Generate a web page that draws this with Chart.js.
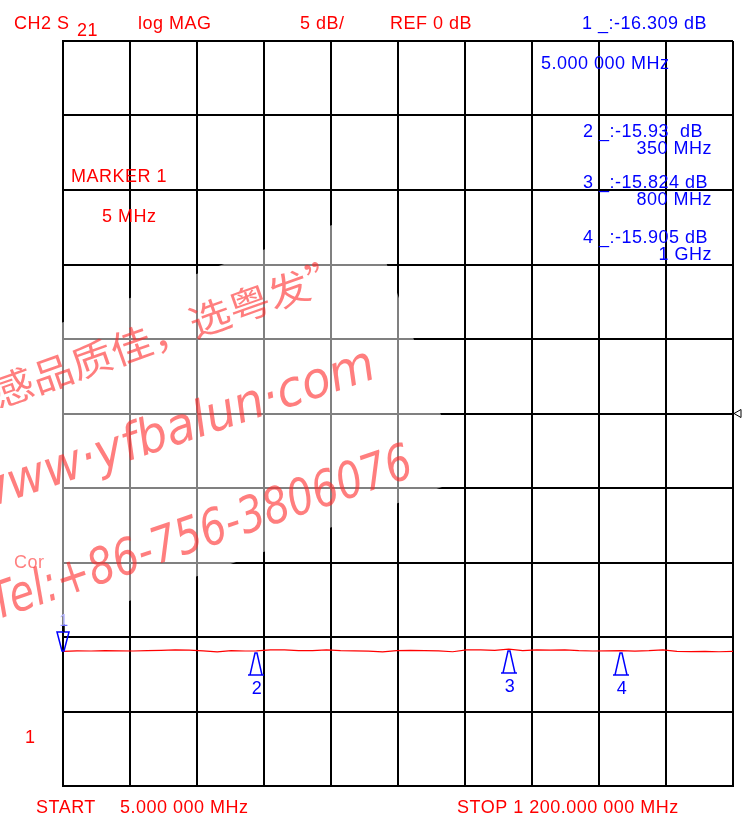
<!DOCTYPE html>
<html>
<head>
<meta charset="utf-8">
<script src="https://cdn.jsdelivr.net/npm/chart.js@4.4.1/dist/chart.umd.min.js"></script>
<style>
  html, body { margin: 0; padding: 0; background: #fff; }
</style>
</head>
<body>
<canvas id="s21Chart" width="750" height="817"></canvas>
<script>
// sweep points (MHz) and S21 trace (dB)
const freqMHz = [5, 30, 55, 80, 105, 130, 155, 180, 205, 230, 255, 280, 305, 330, 350,
  375, 400, 425, 450, 475, 500, 525, 550, 575, 600, 625, 650, 675, 700, 725, 750, 775,
  800, 825, 850, 875, 900, 925, 950, 975, 1000, 1025, 1050, 1075, 1100, 1125, 1150, 1175, 1200];
const s21dB = [-15.97, -15.93, -15.94, -15.92, -15.93, -15.94, -15.92, -15.90, -15.86, -15.88,
  -15.93, -16.00, -15.92, -15.94, -15.93, -15.87, -15.86, -15.92, -15.91, -15.87, -15.92,
  -15.93, -15.95, -16.00, -15.92, -15.90, -15.91, -15.93, -15.99, -15.87, -15.86, -15.90,
  -15.82, -15.91, -15.87, -15.88, -15.87, -15.92, -15.94, -15.93, -15.91, -15.95, -15.92,
  -15.86, -15.97, -15.98, -15.96, -15.99, -15.97];

// markers
const markerNames = ['1', '2', '3', '4'];
const markerFreq = [5, 350, 800, 1000];
const markerDb = ['-16.309', '-15.93 ', '-15.824', '-15.905'];
const markerFreqText = ['5.000 000 MHz', '350 MHz', '800 MHz', '1 GHz'];

// graticule: 10 x 10 divisions, 5 dB/div, REF 0 dB at centre
const xTicks = [5, 124.5, 244, 363.5, 483, 602.5, 722, 841.5, 961, 1080.5, 1200];
const yTicks = [-25, -20, -15, -10, -5, 0, 5, 10, 15, 20, 25];

const RED = '#ff0000';
const BLUE = '#0000ff';
const FONT = "18px 'Liberation Sans', Arial, sans-serif";

function txt(c, s, x, y, color, font, align) {
  c.font = font || FONT;
  c.letterSpacing = '0.5px';
  c.fillStyle = color;
  c.textAlign = align || 'left';
  c.textBaseline = 'alphabetic';
  c.fillText(s, x, y);
  c.letterSpacing = '0px';
}

// draw text along a slanted line, stretched to a given length
function slanted(c, s, x, y, angleDeg, len, font, color) {
  c.save();
  c.font = font;
  c.fillStyle = color;
  c.textAlign = 'left';
  c.textBaseline = 'alphabetic';
  c.translate(x, y);
  c.rotate(angleDeg * Math.PI / 180);
  const w = c.measureText(s).width;
  c.scale(len / w, 1);
  c.fillText(s, 0, 0);
  c.restore();
}

const analyzerOverlay = {
  id: 'analyzerOverlay',
  afterDraw(chart) {
    const c = chart.ctx;
    const xs = chart.scales.x, ys = chart.scales.y;
    c.save();

    // header
    txt(c, 'CH2 S', 14, 29, RED);
    txt(c, '21', 77, 36, RED);
    txt(c, 'log MAG', 138, 29, RED);
    txt(c, '5 dB/', 300, 29, RED);
    txt(c, 'REF 0 dB', 390, 29, RED);

    // marker readouts
    txt(c, markerNames[0] + ' _:' + markerDb[0] + ' dB', 582, 29, BLUE);
    txt(c, markerFreqText[0], 541, 69, BLUE);
    const rowY = [0, 137, 188, 243];
    for (let i = 1; i < markerNames.length; i++) {
      txt(c, markerNames[i] + ' _:' + markerDb[i] + ' dB', 583, rowY[i], BLUE);
      txt(c, markerFreqText[i], 712, rowY[i] + 17, BLUE, FONT, 'right');
    }

    txt(c, 'MARKER 1', 71, 182, RED);
    txt(c, '5 MHz', 102, 222, RED);
    txt(c, 'Cor', 14, 568, RED);
    txt(c, '1', 25, 743, RED);

    // footer
    txt(c, 'START', 36, 813, RED);
    txt(c, '5.000 000 MHz', 120, 813, RED);
    txt(c, 'STOP 1 200.000 000 MHz', 457, 813, RED);

    // reference position pointer
    const yRef = ys.getPixelForValue(0);
    c.strokeStyle = '#000';
    c.lineWidth = 1;
    c.beginPath();
    c.moveTo(xs.right + 1, yRef);
    c.lineTo(xs.right + 8, yRef - 4);
    c.lineTo(xs.right + 8, yRef + 4);
    c.closePath();
    c.stroke();

    // marker symbols on the trace
    c.strokeStyle = BLUE;
    c.lineWidth = 1.5;
    markerFreq.forEach((f, i) => {
      const k = freqMHz.indexOf(f);
      const px = Math.round(xs.getPixelForValue(f));
      const py = Math.round(ys.getPixelForValue(s21dB[k]));
      c.beginPath();
      if (i === 0) {
        c.moveTo(px - 1, py);
        c.lineTo(px + 1, py);
        c.lineTo(px + 6, py - 19);
        c.lineTo(px - 6, py - 19);
        c.closePath();
        c.stroke();
        c.strokeStyle = '#000';
        c.beginPath();
        c.moveTo(px + 1, py - 19);
        c.lineTo(px + 1, py - 27);
        c.stroke();
        c.strokeStyle = BLUE;
        txt(c, markerNames[i], px + 1, py - 25, '#6a6aff', "16px 'Liberation Sans', Arial, sans-serif", 'center');
      } else {
        c.moveTo(px - 1, py + 2);
        c.lineTo(px + 1, py + 2);
        c.lineTo(px + 6, py + 24);
        c.lineTo(px - 6, py + 24);
        c.closePath();
        c.moveTo(px - 8, py + 24);
        c.lineTo(px + 8, py + 24);
        c.stroke();
        txt(c, markerNames[i], px + 1, py + 43, BLUE, FONT, 'center');
      }
    });

    // translucent backdrop of the watermark
    c.fillStyle = 'rgba(255,255,255,0.5)';
    c.beginPath();
    c.moveTo(0, 345);
    c.lineTo(368, 212);
    c.lineTo(464, 479);
    c.lineTo(0, 648);
    c.closePath();
    c.fill();

    // watermark
    const wm = 'rgba(255,40,40,0.6)';
    slanted(c, '感品质佳，选粤发”', -2, 408, -19.5, 376, "38px 'Noto Sans CJK SC', sans-serif", wm);
    slanted(c, 'www·yfbalun·com', -24, 512, -18.5, 424, "italic 50px 'DejaVu Sans', sans-serif", wm);
    slanted(c, 'Tel:+86-756-3806076', -4, 620, -19, 444, "italic 50px 'DejaVu Sans', sans-serif", wm);

    c.restore();
  }
};

const ctx = document.getElementById('s21Chart').getContext('2d');

const data = {
  datasets: [{
    label: 'S21',
    data: freqMHz.map((f, i) => ({ x: f, y: s21dB[i] })),
    borderColor: RED,
    borderWidth: 1.2,
    pointRadius: 0,
    tension: 0,
    fill: false
  }]
};

const gridOpts = {
  color: '#000',
  lineWidth: 2,
  drawTicks: false
};

const config = {
  type: 'line',
  data: data,
  options: {
    responsive: false,
    animation: false,
    layout: { padding: { left: 63, top: 41, right: 17, bottom: 31 } },
    plugins: {
      legend: { display: false },
      tooltip: { enabled: false }
    },
    scales: {
      x: {
        type: 'linear',
        min: 5,
        max: 1200,
        afterBuildTicks: (s) => { s.ticks = xTicks.map(v => ({ value: v })); },
        ticks: { display: false },
        grid: gridOpts,
        border: { color: '#000', width: 2 }
      },
      y: {
        min: -25,
        max: 25,
        afterBuildTicks: (s) => { s.ticks = yTicks.map(v => ({ value: v })); },
        ticks: { display: false },
        grid: gridOpts,
        border: { color: '#000', width: 2 }
      }
    }
  },
  plugins: [analyzerOverlay]
};

const s21Chart = new Chart(ctx, config);
</script>
</body>
</html>
